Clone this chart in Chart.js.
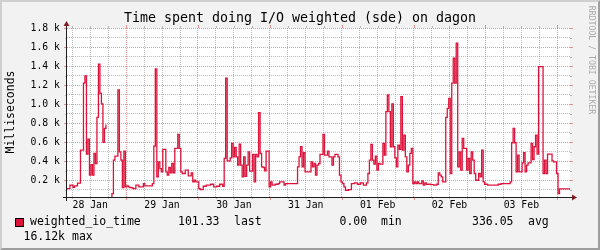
<!DOCTYPE html>
<html>
<head>
<meta charset="utf-8">
<title>Time spent doing I/O weighted (sde) on dagon</title>
<script src="https://cdn.jsdelivr.net/npm/chart.js@4.4.1/dist/chart.umd.min.js"></script>
<style>
  html, body { margin: 0; padding: 0; background: #f2f2f2; }
  canvas { display: block; }
</style>
</head>
<body>
<canvas id="ioChart" width="600" height="250"></canvas>
<script>
// Munin week graph, one sample per 30 minutes
const startHour = 4.25;   // hours after 28 Jan 00:00
const stepHours = 0.5;
const dayLabels = ['28 Jan', '29 Jan', '30 Jan', '31 Jan', '01 Feb', '02 Feb', '03 Feb'];
const yTickValues = [100, 200, 300, 400, 500, 600, 700, 800, 900, 1000,
                     1100, 1200, 1300, 1400, 1500, 1600, 1700, 1800];

// weighted_io_time, milliseconds (null = no data)
const ioTime = [
    112,112,148,148,125,140,140,170,170,517,517,1220,1297,474,633,253,365,253,481,376,
    861,1420,1114,1002,597,745,787,null,null,0,60,411,453,453,1149,499,411,123,506,130,
    140,130,123,123,112,112,148,148,
    130,130,130,165,140,140,140,140,140,165,559,1371,235,394,323,288,524,524,288,253,
    334,278,376,278,534,534,682,534,288,271,271,306,306,246,246,278,183,200,183,183,
    112,102,102,137,137,148,148,148,
    158,158,130,130,137,137,158,158,137,429,1272,404,404,436,587,446,545,446,358,580,
    358,235,446,242,358,499,295,295,471,183,471,446,910,481,341,334,300,506,506,130,
    183,148,148,158,158,165,183,183,
    183,148,165,165,165,165,165,165,165,165,341,446,552,341,489,288,288,288,288,394,
    341,376,253,358,376,471,471,682,464,464,506,446,446,358,446,471,471,446,253,183,
    165,130,95,95,102,102,165,165,
    172,172,158,158,172,172,148,148,172,271,411,576,411,369,453,306,376,369,369,587,
    464,921,1097,921,552,1002,552,436,341,569,524,1079,517,675,446,288,358,482,534,165,
    183,165,183,165,165,193,148,172,
    158,158,158,155,155,148,148,158,278,253,235,183,183,861,956,1061,271,1220,1483,1220,
    1641,341,499,306,640,534,534,306,429,271,499,411,271,200,200,271,235,517,183,158,
    158,148,148,148,148,148,148,148,
    158,158,165,165,165,165,165,165,183,594,745,594,288,464,288,288,383,489,288,358,
    383,383,587,418,552,675,474,1395,1395,1395,271,411,271,474,474,474,404,394,394,271,
    60,110,110,110,110,110,110,110
];

const seriesName = 'weighted_io_time';
const legendStats = [['101.33', 'last'], ['0.00', 'min'], ['336.05', 'avg'], ['16.12k', 'max']];

const MONO = "'DejaVu Sans Mono', monospace";
const LINE_COLOR = '#dc143c';
const GRID = 'rgba(143, 143, 143, 0.6)';
const MGRID = 'rgba(222, 79, 79, 0.6)';

// points: each sample holds its value until the next one
const points = ioTime.map((v, i) => ({ x: startHour + i * stepHours, y: v }));
points.push({ x: startHour + ioTime.length * stepHours, y: ioTime[ioTime.length - 1] });

const xMax = startHour + ioTime.length * stepHours;

// rrdtool look: frame, canvas, axes with arrows, titles, legend
const rrdLook = {
    id: 'rrdLook',
    beforeDraw(chart) {
        const ctx = chart.ctx;
        const a = chart.chartArea;
        const W = chart.width, H = chart.height;
        ctx.save();
        ctx.fillStyle = '#f2f2f2';
        ctx.fillRect(0, 0, W, H);
        // 3d border
        ctx.fillStyle = '#cfcfcf';
        ctx.beginPath();
        ctx.moveTo(0, H); ctx.lineTo(2, H - 2); ctx.lineTo(2, 2);
        ctx.lineTo(W - 2, 2); ctx.lineTo(W, 0); ctx.lineTo(0, 0);
        ctx.closePath(); ctx.fill();
        ctx.fillStyle = '#9e9e9e';
        ctx.beginPath();
        ctx.moveTo(2, H - 2); ctx.lineTo(W - 2, H - 2); ctx.lineTo(W - 2, 2);
        ctx.lineTo(W, 0); ctx.lineTo(W, H); ctx.lineTo(0, H);
        ctx.closePath(); ctx.fill();
        ctx.fillStyle = '#ffffff';
        ctx.fillRect(a.left, a.top, a.right - a.left, a.bottom - a.top);
        ctx.restore();
    },
    afterDraw(chart) {
        const ctx = chart.ctx;
        const a = chart.chartArea;
        const xs = chart.scales.x, ys = chart.scales.y;
        ctx.save();

        // short ticks outside the canvas, like rrdtool does
        ctx.lineWidth = 1;
        xs.ticks.forEach(t => {
            const major = t.value % 24 === 0;
            const px = Math.round(xs.getPixelForValue(t.value)) + 0.5;
            const len = major ? 3 : 2;
            ctx.strokeStyle = major ? MGRID : GRID;
            ctx.beginPath();
            ctx.moveTo(px, a.bottom); ctx.lineTo(px, a.bottom + len);
            ctx.moveTo(px, a.top - len); ctx.lineTo(px, a.top);
            ctx.stroke();
        });
        ys.ticks.forEach(t => {
            const major = t.value % 200 === 0;
            const py = Math.round(ys.getPixelForValue(t.value)) + 0.5;
            const len = major ? 3 : 2;
            ctx.strokeStyle = major ? MGRID : GRID;
            ctx.beginPath();
            ctx.moveTo(a.left - len, py); ctx.lineTo(a.left, py);
            ctx.moveTo(a.right, py); ctx.lineTo(a.right + len, py);
            ctx.stroke();
        });

        // axes
        const x0 = Math.round(a.left) - 0.5;
        const y0 = Math.round(a.bottom) + 0.5;
        ctx.strokeStyle = '#1f1f1f';
        ctx.beginPath();
        ctx.moveTo(a.left - 4, y0); ctx.lineTo(a.right + 4, y0);
        ctx.moveTo(x0, a.bottom + 4); ctx.lineTo(x0, a.top - 4);
        ctx.stroke();
        ctx.fillStyle = '#801f1f';
        ctx.beginPath();
        ctx.moveTo(a.right + 2, y0 - 3); ctx.lineTo(a.right + 2, y0 + 3); ctx.lineTo(a.right + 7, y0);
        ctx.closePath(); ctx.fill();
        ctx.beginPath();
        ctx.moveTo(x0 - 3, a.top - 2); ctx.lineTo(x0 + 3, a.top - 2); ctx.lineTo(x0, a.top - 7);
        ctx.closePath(); ctx.fill();

        // title
        ctx.fillStyle = '#000';
        ctx.textBaseline = 'middle';
        ctx.textAlign = 'center';
        ctx.font = '13.3px ' + MONO;
        ctx.fillText('Time spent doing I/O weighted (sde) on dagon', 300, 19);

        // vertical unit label
        ctx.font = '11.5px ' + MONO;
        ctx.save();
        ctx.translate(11, 112);
        ctx.rotate(-Math.PI / 2);
        ctx.fillText('Milliseconds', 0, 0);
        ctx.restore();

        // watermark
        ctx.save();
        ctx.fillStyle = '#ababab';
        ctx.font = '8.2px ' + MONO;
        ctx.translate(591, 60);
        ctx.rotate(Math.PI / 2);
        ctx.fillText('RRDTOOL / TOBI OETIKER', 0, 0);
        ctx.restore();

        // legend
        ctx.fillStyle = LINE_COLOR;
        ctx.fillRect(15, 218, 9, 9);
        ctx.strokeStyle = '#000';
        ctx.strokeRect(15.5, 218.5, 8, 8);
        ctx.fillStyle = '#000';
        ctx.textAlign = 'left';
        ctx.font = '11.5px ' + MONO;
        const rowY = 222.5;
        ctx.fillText(seriesName, 30, rowY);
        const statX = [[178, 234], [339.5, 381], [472, 528]];
        statX.forEach((pos, k) => {
            ctx.fillText(legendStats[k][0], pos[0], rowY);
            ctx.fillText(legendStats[k][1], pos[1], rowY);
        });
        ctx.fillText(legendStats[3][0] + ' ' + legendStats[3][1], 23.5, 237);

        ctx.restore();
    }
};

new Chart(document.getElementById('ioChart'), {
    type: 'line',
    data: {
        datasets: [{
            label: seriesName,
            data: points,
            borderColor: LINE_COLOR,
            borderWidth: 1.3,
            stepped: 'before',
            pointRadius: 0,
            fill: false,
            spanGaps: false
        }]
    },
    options: {
        responsive: false,
        animation: false,
        devicePixelRatio: 1,
        layout: { padding: { left: 0, top: 28, right: 30, bottom: 38 } },
        plugins: {
            legend: { display: false },
            title: { display: false },
            tooltip: { enabled: false }
        },
        scales: {
            x: {
                type: 'linear',
                min: startHour,
                max: xMax,
                afterBuildTicks: (scale) => {
                    const t = [];
                    for (let h = 6; h < xMax; h += 6) t.push({ value: h });
                    scale.ticks = t;
                },
                afterFit: (scale) => { scale.height = 15; },
                grid: {
                    color: (c) => (c.tick && c.tick.value % 24 === 0) ? MGRID : GRID,
                    lineWidth: 1,
                    drawTicks: false
                },
                border: { display: false, dash: [1, 1] },
                ticks: {
                    autoSkip: false,
                    maxRotation: 0,
                    padding: 3,
                    color: '#000',
                    font: { family: MONO, size: 9.8 },
                    callback: (v) => ((v - 12) % 24 === 0) ? dayLabels[(v - 12) / 24] : ''
                }
            },
            y: {
                min: 24,
                max: 1800,
                afterBuildTicks: (scale) => {
                    scale.ticks = yTickValues.map(v => ({ value: v }));
                },
                afterFit: (scale) => { scale.width = 67; },
                grid: {
                    color: (c) => (c.tick && c.tick.value % 200 === 0) ? MGRID : GRID,
                    lineWidth: 1,
                    drawTicks: false
                },
                border: { display: false, dash: [1, 1] },
                ticks: {
                    autoSkip: false,
                    padding: 7,
                    color: '#000',
                    font: { family: MONO, size: 9.8 },
                    callback: (v) => (v % 200 === 0) ? (v / 1000).toFixed(1) + ' k' : ''
                }
            }
        }
    },
    plugins: [rrdLook]
});
</script>
</body>
</html>
